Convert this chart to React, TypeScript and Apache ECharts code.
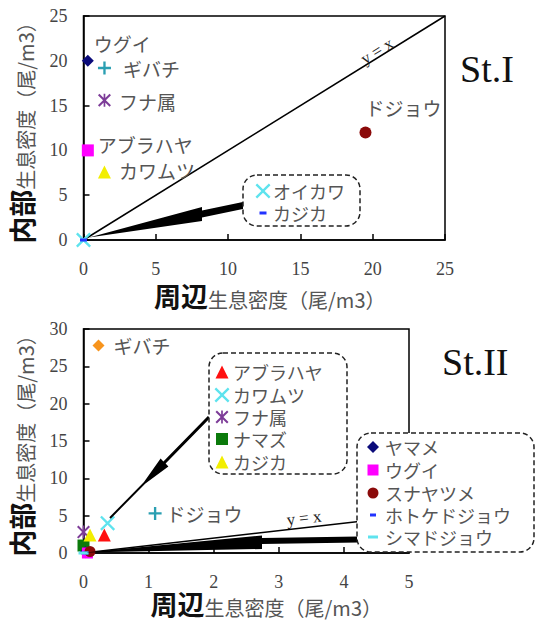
import React, { useEffect, useRef } from 'react';
import * as echarts from 'echarts';

// ---------------- data ----------------
// St.I  (x = 周辺 density, y = 内部 density)
const st1Names = ['ウグイ', 'ギバチ', 'フナ属', 'アブラハヤ', 'カワムツ', 'オイカワ', 'カジカ', 'ドジョウ'];
const st1Outer = [0.3, 1.45, 1.45, 0.3, 1.45, 0, 0, 19.5];
const st1Inner = [20, 19.2, 15.6, 10, 7.6, 0, 0, 12];

// St.II
const st2Names = ['ギバチ', 'ドジョウ', 'アブラハヤ', 'カワムツ', 'フナ属', 'ナマズ', 'カジカ', 'ヤマメ', 'ウグイ', 'スナヤツメ', 'ホトケドジョウ', 'シマドジョウ'];
const st2Outer = [0.23, 1.1, 0.32, 0.37, 0, 0, 0.1, 0.03, 0.06, 0.1, 0.03, 0];
const st2Inner = [27.8, 5.3, 2.4, 4.0, 2.8, 1.0, 2.4, 0.1, 0, 0.2, 0, 0];

const st1XTicks = [0, 5, 10, 15, 20, 25];
const st1YTicks = [0, 5, 10, 15, 20, 25];
const st2XTicks = [0, 1, 2, 3, 4, 5];
const st2YTicks = [0, 5, 10, 15, 20, 25, 30];

const st1BoxNames = ['オイカワ', 'カジカ'];
const st2Box1Names = ['アブラハヤ', 'カワムツ', 'フナ属', 'ナマズ', 'カジカ'];
const st2Box2Names = ['ヤマメ', 'ウグイ', 'スナヤツメ', 'ホトケドジョウ', 'シマドジョウ'];

// ---------------- styles ----------------
const SHAPES: Record<string, string> = {
  diamond: 'M5,0L10,5L5,10L0,5Z',
  square: 'M0,0H10V10H0Z',
  triangle: 'M5,0L10,10L0,10Z',
  circle: 'M0,5A5,5,0,1,1,10,5A5,5,0,1,1,0,5Z',
  plus: 'M4.1,0H5.9V4.1H10V5.9H5.9V10H4.1V5.9H0V4.1H4.1Z',
  cross: 'M0,1.1L1.1,0L5,3.9L8.9,0L10,1.1L6.1,5L10,8.9L8.9,10L5,6.1L1.1,10L0,8.9L3.9,5Z',
  star: 'M0,1.1L1.1,0L5,3.9L8.9,0L10,1.1L6.1,5L10,8.9L8.9,10L5,6.1L1.1,10L0,8.9L3.9,5ZM4.35,0H5.65V10H4.35Z',
  dash: 'M0,0H10V10H0Z',
};
Object.keys(SHAPES).forEach((k) => {
  echarts.graphic.registerShape('mk_' + k, echarts.graphic.extendPath(SHAPES[k], {}));
});

type Mk = { shape: string; color: string; size: number | [number, number] };
const NAVY = '#0b0b7a';
const TEAL = '#2a9fb2';
const PURPLE = '#7d3c98';
const MAGENTA = '#ff00ff';
const YELLOW = '#f2ee00';
const CYAN = '#5ee3ee';
const BLUE = '#2233ff';
const DARKRED = '#8b0a0a';

const st1Marks: Mk[] = [
  { shape: 'diamond', color: NAVY, size: 12 },
  { shape: 'plus', color: TEAL, size: 13 },
  { shape: 'star', color: PURPLE, size: 13 },
  { shape: 'square', color: MAGENTA, size: 12 },
  { shape: 'triangle', color: YELLOW, size: 13 },
  { shape: 'cross', color: CYAN, size: 15 },
  { shape: 'dash', color: BLUE, size: [7, 3] },
  { shape: 'circle', color: DARKRED, size: 12 },
];
const st2Marks: Mk[] = [
  { shape: 'diamond', color: '#f7941d', size: 12 },
  { shape: 'plus', color: TEAL, size: 13 },
  { shape: 'triangle', color: '#ff1010', size: 13 },
  { shape: 'cross', color: CYAN, size: 15 },
  { shape: 'star', color: PURPLE, size: 13 },
  { shape: 'square', color: '#0b7a0b', size: 12 },
  { shape: 'triangle', color: YELLOW, size: 13 },
  { shape: 'diamond', color: NAVY, size: 12 },
  { shape: 'square', color: MAGENTA, size: 11 },
  { shape: 'circle', color: DARKRED, size: 11 },
  { shape: 'dash', color: BLUE, size: [6, 3] },
  { shape: 'dash', color: CYAN, size: [10, 3] },
];

const JP = 'Noto Sans CJK JP';
const SERIF = 'Liberation Serif';
const LABEL_COLOR = '#555';

const st1Labels: Record<string, any> = {
  'ウグイ': { position: 'right', distance: 0, offset: [0, -17] },
  'ギバチ': { position: 'right', distance: 12, offset: [0, 1] },
  'フナ属': { position: 'right', distance: 8, offset: [0, 1] },
  'アブラハヤ': { position: 'right', distance: 4, offset: [0, -6] },
  'カワムツ': { position: 'right', distance: 8, offset: [0, -1] },
  'ドジョウ': { position: 'top', distance: 8, offset: [38, 0] },
};
const st2Labels: Record<string, any> = {
  'ギバチ': { position: 'right', distance: 9, offset: [0, 0] },
  'ドジョウ': { position: 'right', distance: 5, offset: [0, 0] },
};

function scatterSeries(names: string[], xs: number[], ys: number[], marks: Mk[], labels: Record<string, any>, gi: number) {
  return names.map((name, i) => {
    const lb = labels[name];
    return {
      type: 'scatter',
      name,
      xAxisIndex: gi,
      yAxisIndex: gi,
      data: [[xs[i], ys[i]]],
      symbol: 'path://' + SHAPES[marks[i].shape],
      symbolSize: marks[i].size,
      symbolKeepAspect: false,
      itemStyle: { color: marks[i].color, opacity: 1 },
      label: lb
        ? { show: true, formatter: '{a}', color: LABEL_COLOR, fontSize: 19, lineHeight: 21, fontFamily: JP, ...lb }
        : { show: false },
      silent: true,
      z: 3,
    };
  });
}

const nameRich = {
  b: { fontSize: 27, fontWeight: 'bold', fontFamily: JP, color: '#111', lineHeight: 28 },
  s: { fontSize: 20, fontFamily: JP, color: '#555', lineHeight: 22, verticalAlign: 'bottom' },
};

function xAxisOf(gi: number, ticks: number[], nameGap: number, padLeft: number) {
  return {
    type: 'value',
    gridIndex: gi,
    min: ticks[0],
    max: ticks[ticks.length - 1],
    interval: ticks[1] - ticks[0],
    name: '{b|周辺}{s|生息密度（尾/m3）}',
    nameLocation: 'middle',
    nameGap,
    nameMoveOverlap: false,
    nameTextStyle: { rich: nameRich, padding: [0, 0, 0, padLeft] },
    axisLine: { show: true, onZero: false, lineStyle: { color: '#000', width: 1.5 } },
    axisTick: { show: true, inside: true, length: 6, lineStyle: { color: '#000', width: 1.5 } },
    axisLabel: { fontFamily: SERIF, fontSize: 18, color: '#444', margin: 20 },
    splitLine: { show: false },
  };
}
function yAxisOf(gi: number, ticks: number[]) {
  return {
    type: 'value',
    gridIndex: gi,
    min: ticks[0],
    max: ticks[ticks.length - 1],
    interval: ticks[1] - ticks[0],
    name: '{b|内部}{s|生息密度（尾/m3）}',
    nameLocation: 'middle',
    nameRotate: 90,
    nameGap: 48,
    nameMoveOverlap: false,
    nameTextStyle: { rich: nameRich },
    axisLine: { show: true, onZero: false, lineStyle: { color: '#000', width: 1.5 } },
    axisTick: { show: true, inside: true, length: 6, lineStyle: { color: '#000', width: 1.5 } },
    axisLabel: { fontFamily: SERIF, fontSize: 18, color: '#444', margin: 16 },
    splitLine: { show: false },
  };
}

function markerEl(mk: Mk, cx: number, cy: number) {
  const [w, h] = Array.isArray(mk.size) ? mk.size : [mk.size, mk.size];
  return {
    type: 'mk_' + mk.shape,
    x: cx - w / 2,
    y: cy - h / 2,
    scaleX: w / 10,
    scaleY: h / 10,
    style: { fill: mk.color },
    silent: true,
    z: 61,
  };
}
function textEl(text: string, x: number, y: number, extra: any = {}) {
  const fs = extra.fontSize || 18;
  return {
    type: 'text',
    x,
    y,
    silent: true,
    z: 61,
    rotation: extra.rotation || 0,
    style: {
      text,
      fill: extra.fill || LABEL_COLOR,
      fontSize: fs,
      lineHeight: fs + 2,
      fontFamily: extra.fontFamily || JP,
      fontWeight: extra.fontWeight || 'normal',
      align: extra.align || 'left',
      textAlign: extra.align || 'left',
      verticalAlign: 'middle',
      textVerticalAlign: 'middle',
    },
  };
}
function boxEl(x: number, y: number, w: number, h: number) {
  return {
    type: 'rect',
    silent: true,
    z: 60,
    shape: { x, y, width: w, height: h, r: 14 },
    style: { fill: '#fff', stroke: '#222', lineWidth: 1.5, lineDash: [5, 3] },
  };
}
function boxItems(names: string[], allNames: string[], marks: Mk[], mx: number, tx: number, rows: number[]) {
  const out: any[] = [];
  names.forEach((n, k) => {
    const idx = allNames.indexOf(n);
    out.push(markerEl(marks[idx], mx, rows[k]));
    out.push(textEl(n, tx, rows[k]));
  });
  return out;
}
function arrowEl(points: number[][]) {
  return { type: 'polygon', silent: true, z: 40, shape: { points }, style: { fill: '#000' } };
}

const option: any = {
  animation: false,
  backgroundColor: '#fff',
  grid: [
    { left: 82, top: 16, width: 363, height: 224, show: true, borderColor: '#000', borderWidth: 1.5, backgroundColor: 'transparent' },
    { left: 82, top: 329, width: 327, height: 224, show: true, borderColor: '#000', borderWidth: 1.5, backgroundColor: 'transparent' },
  ],
  xAxis: [xAxisOf(0, st1XTicks, 41, 11), xAxisOf(1, st2XTicks, 36, 40)],
  yAxis: [yAxisOf(0, st1YTicks), yAxisOf(1, st2YTicks)],
  series: [
    {
      type: 'line', xAxisIndex: 0, yAxisIndex: 0, silent: true, z: 1, symbol: 'none',
      data: [[st1XTicks[0], st1YTicks[0]], [st1XTicks[st1XTicks.length - 1], st1XTicks[st1XTicks.length - 1]]],
      lineStyle: { color: '#000', width: 1.5 },
    },
    {
      type: 'line', xAxisIndex: 1, yAxisIndex: 1, silent: true, z: 1, symbol: 'none',
      data: [[st2XTicks[0], st2YTicks[0]], [st2XTicks[st2XTicks.length - 1], st2XTicks[st2XTicks.length - 1]]],
      lineStyle: { color: '#000', width: 1.5 },
    },
    ...scatterSeries(st1Names, st1Outer, st1Inner, st1Marks, st1Labels, 0),
    ...scatterSeries(st2Names, st2Outer, st2Inner, st2Marks, st2Labels, 1),
  ],
  graphic: [
    // station titles
    textEl('St.I', 460, 69, { fontSize: 38, fontFamily: SERIF, fill: '#111' }),
    textEl('St.II', 442, 362, { fontSize: 38, fontFamily: SERIF, fill: '#111' }),
    // y = x labels
    textEl('y = x', 377, 51, { fontSize: 17, fontFamily: SERIF, fill: '#222', align: 'center', rotation: 0.553 }),
    textEl('y = x', 304, 518, { fontSize: 17, fontFamily: SERIF, fill: '#222', align: 'center', rotation: 0.114 }),
    // pointer arrows
    arrowEl([[89, 237.5], [202, 207], [202, 210.5], [244, 201.7], [244, 208.7], [202, 217.5], [202, 221]]),
    arrowEl([[110.7, 518.7], [145.4, 483.4], [168.4, 466.4], [165.6, 463.6], [210.1, 418.1], [207.9, 415.9], [163.4, 461.5], [160.6, 458.6], [144.0, 482.0], [109.3, 517.3]]),
    arrowEl([[85, 552.5], [262, 535.5], [262, 538], [358, 536.5], [358, 542.5], [262, 544], [262, 549]]),
    // callout boxes
    boxEl(243, 175, 117, 51),
    ...boxItems(st1BoxNames, st1Names, st1Marks, 263, 273, [191, 213]),
    boxEl(209, 353, 138, 121),
    ...boxItems(st2Box1Names, st2Names, st2Marks, 222, 233, [372, 395, 417, 439, 462]),
    boxEl(357, 433, 177, 119),
    ...boxItems(st2Box2Names, st2Names, st2Marks, 373, 385, [447, 470, 493, 515, 537]),
  ],
};

export default function App() {
  const ref = useRef<HTMLDivElement>(null);
  useEffect(() => {
    const chart = echarts.init(ref.current as HTMLDivElement, null, { renderer: 'svg' });
    chart.setOption(option);
    return () => chart.dispose();
  }, []);
  return (
    <div
      ref={ref}
      style={{ position: 'absolute', left: 0, top: 0, width: 536, height: 621, background: '#fff' }}
    />
  );
}
